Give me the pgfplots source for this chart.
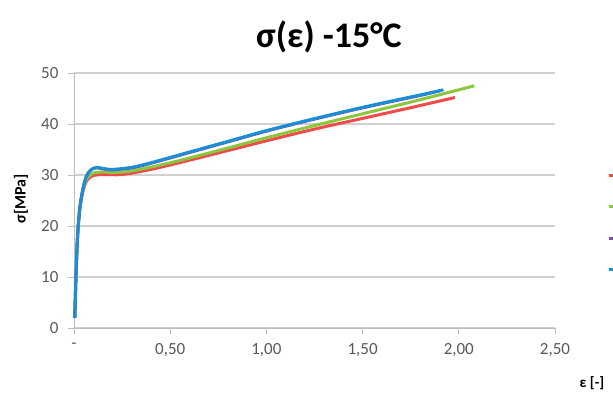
\documentclass[border=0pt]{standalone}
\usepackage{pgfplots}
\pgfplotsset{compat=1.18}
\usepackage{fontspec}
\setmainfont{Carlito}
\definecolor{cred}{HTML}{F04A4A}
\definecolor{cgreen}{HTML}{8CC63F}
\definecolor{cpurple}{HTML}{7B52AE}
\definecolor{cblue}{HTML}{1B8FD6}
\definecolor{gridc}{HTML}{D0D0D0}
\definecolor{axc}{HTML}{BDBDBD}
\definecolor{txt}{HTML}{595959}
\begin{document}
\begin{tikzpicture}[x=1pt,y=1pt]
\useasboundingbox (0,0) rectangle (613,397);
\begin{axis}[
  at={(74pt,69pt)}, anchor=south west,
  scale only axis, width=481pt, height=255pt,
  xmin=0, xmax=2.5, ymin=0, ymax=50,
  xtick={0,0.5,1,1.5,2,2.5},
  xticklabels={-,{0,50},{1,00},{1,50},{2,00},{2,50}},
  ytick={0,10,20,30,40,50},
  /pgf/number format/assume math mode=true,
  ticklabel style={font=\fontsize{17}{17}\selectfont, text=txt},
  xticklabel style={yshift=-6pt},
  yticklabel style={xshift=-6pt},
  axis x line*=bottom, axis y line*=left,
  axis line style={axc, line width=1pt},
  x axis line style={-}, y axis line style={-},
  ymajorgrids, grid style={gridc, line width=1.2pt},
  tick align=outside, major tick length=6pt,
  tick style={axc, line width=1pt},
  clip=false,
  legend style={at={(1.108,0.61)}, anchor=north west, draw=none, fill=none,
    row sep=26pt, inner sep=0pt},
  legend cell align=left,
  legend image code/.code={\draw[#1, line width=3pt] (0,0) -- (8pt,0);},
]
\addplot[cred, line width=3pt, smooth] coordinates {
(0.004,2) (0.01,10) (0.016,16) (0.022,20) (0.032,24) (0.048,27) (0.065,28.8) (0.085,29.6) (0.1,29.9) (0.15,30.1) (0.25,30.1) (0.4,31.1) (0.6,32.9) (0.8,34.8) (1.0,36.7) (1.25,39.0) (1.5,41.1) (1.75,43.2) (1.98,45.2)};
\addlegendentry{}
\addplot[cgreen, line width=3pt, smooth] coordinates {
(0.004,2) (0.01,10) (0.016,16) (0.022,20) (0.032,24) (0.048,27.2) (0.065,29.2) (0.085,30.0) (0.1,30.4) (0.15,30.6) (0.2,30.5) (0.3,30.8) (0.5,32.4) (0.75,34.8) (1.0,37.3) (1.25,39.7) (1.5,42.0) (1.75,44.3) (2.0,46.7) (2.08,47.5)};
\addlegendentry{}
\addplot[cpurple, line width=3pt, smooth] coordinates {
(0.004,2) (0.01,10) (0.016,16) (0.022,20) (0.032,24) (0.048,27.6) (0.065,29.8) (0.085,30.9) (0.1,31.3) (0.12,31.4) (0.15,31.2) (0.2,31.0) (0.3,31.4) (0.4,32.3) (0.6,34.4) (0.8,36.5) (1.0,38.6) (1.2,40.5) (1.4,42.3) (1.6,44.0) (1.8,45.6) (1.9,46.5)};
\addlegendentry{}
\addplot[cblue, line width=3pt, smooth] coordinates {
(0.004,2) (0.01,10) (0.016,16) (0.022,20) (0.032,24) (0.048,27.6) (0.065,29.8) (0.085,30.9) (0.1,31.3) (0.12,31.5) (0.15,31.3) (0.2,31.1) (0.3,31.5) (0.4,32.4) (0.6,34.5) (0.8,36.6) (1.0,38.7) (1.2,40.6) (1.4,42.4) (1.6,44.1) (1.8,45.7) (1.92,46.7)};
\addlegendentry{}
\end{axis}
\node[font=\fontsize{36}{36}\selectfont\bfseries] at (329,360) {σ(ε) -15°C};
\node[rotate=90, font=\fontsize{16}{16}\selectfont\bfseries] at (21,198) {σ[MPa]};
\node[font=\fontsize{15}{15}\selectfont\bfseries] at (592,14) {ε [-]};
\end{tikzpicture}
\end{document}
